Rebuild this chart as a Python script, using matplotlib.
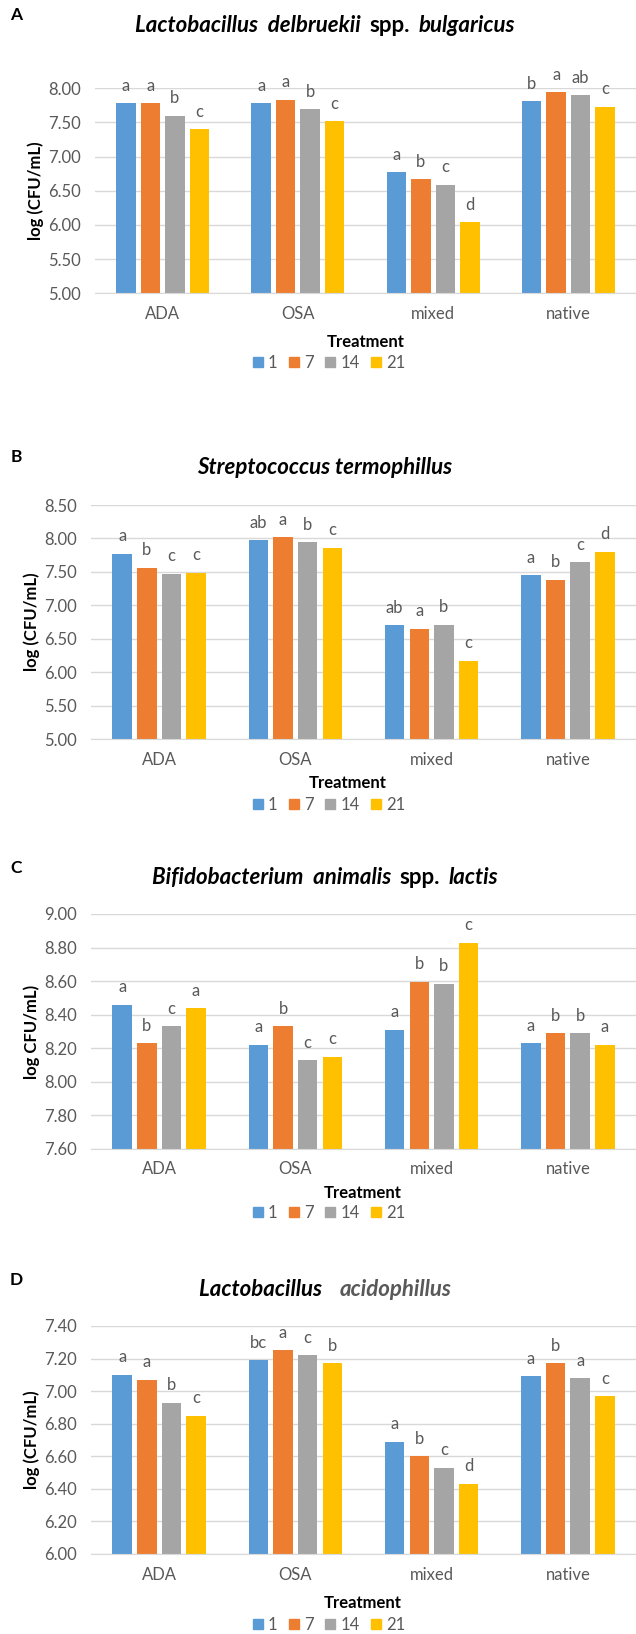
import numpy as np
import matplotlib
matplotlib.use("Agg")
from matplotlib import pyplot as plt
from matplotlib.offsetbox import TextArea, HPacker, AnchoredOffsetbox
from matplotlib.patches import Patch

plt.rcParams['font.family'] = ['Lato', 'DejaVu Sans']

# categories / series
treatments = ['ADA', 'OSA', 'mixed', 'native']
days = ['1', '7', '14', '21']
colors = ['#5B9BD5', '#ED7D31', '#A5A5A5', '#FFC000']

# A - L. delbruekii spp. bulgaricus
a_day1 = [7.78, 7.78, 6.77, 7.81]
a_day7 = [7.78, 7.83, 6.67, 7.94]
a_day14 = [7.60, 7.69, 6.585, 7.90]
a_day21 = [7.40, 7.52, 6.04, 7.73]
a_letters = [['a', 'a', 'a', 'b'], ['a', 'a', 'b', 'a'],
             ['b', 'b', 'c', 'ab'], ['c', 'c', 'd', 'c']]

# B - S. termophillus
b_day1 = [7.77, 7.97, 6.70, 7.45]
b_day7 = [7.56, 8.02, 6.65, 7.38]
b_day14 = [7.47, 7.94, 6.71, 7.64]
b_day21 = [7.49, 7.86, 6.17, 7.80]
b_letters = [['a', 'ab', 'ab', 'a'], ['b', 'a', 'a', 'b'],
             ['c', 'b', 'b', 'c'], ['c', 'c', 'c', 'd']]

# C - B. animalis spp. lactis
c_day1 = [8.46, 8.22, 8.31, 8.23]
c_day7 = [8.23, 8.33, 8.595, 8.29]
c_day14 = [8.33, 8.13, 8.585, 8.29]
c_day21 = [8.44, 8.15, 8.83, 8.22]
c_letters = [['a', 'a', 'a', 'a'], ['b', 'b', 'b', 'b'],
             ['c', 'c', 'b', 'b'], ['a', 'c', 'c', 'a']]

# D - L. acidophillus
d_day1 = [7.10, 7.19, 6.69, 7.09]
d_day7 = [7.07, 7.25, 6.60, 7.17]
d_day14 = [6.93, 7.22, 6.53, 7.08]
d_day21 = [6.85, 7.17, 6.43, 6.97]
d_letters = [['a', 'bc', 'a', 'a'], ['a', 'a', 'b', 'b'],
             ['b', 'c', 'c', 'a'], ['c', 'b', 'd', 'c']]

W, H = 636, 1634
GRAY = '#595959'

fig = plt.figure(figsize=(W / 100, H / 100), dpi=100)


def fx(x):
    return x / W


def fy(y):
    return 1 - y / H


panels = [
    dict(tag='A',
         title=[('Lactobacillus  delbruekii', 'italic', 'black'), ('spp.', 'normal', 'black'),
                ('bulgaricus', 'italic', 'black')],
         data=[a_day1, a_day7, a_day14, a_day21], letters=a_letters,
         ylim=(5.0, 8.0), yticks=np.arange(5.0, 8.01, 0.5), ylabel='log (CFU/mL)',
         left=95, top=88.3, bottom=293.3, tag_y=15, title_y=26,
         treat_x=366, treat_y=342, leg_y=363, ylab_x=36),
    dict(tag='B',
         title=[('Streptococcus termophillus', 'italic', 'black')],
         data=[b_day1, b_day7, b_day14, b_day21], letters=b_letters,
         ylim=(5.0, 8.5), yticks=np.arange(5.0, 8.51, 0.5), ylabel='log (CFU/mL)',
         left=91, top=505, bottom=739, tag_y=457, title_y=467,
         treat_x=348, treat_y=783, leg_y=805, ylab_x=32),
    dict(tag='C',
         title=[('Bifidobacterium  animalis', 'italic', 'black'), ('spp.', 'normal', 'black'),
                ('lactis', 'italic', 'black')],
         data=[c_day1, c_day7, c_day14, c_day21], letters=c_letters,
         ylim=(7.6, 9.0), yticks=np.arange(7.6, 9.01, 0.2), ylabel='log CFU/mL)',
         left=91, top=914, bottom=1149, tag_y=868, title_y=877,
         treat_x=363, treat_y=1193, leg_y=1213, ylab_x=32),
    dict(tag='D',
         title=[('Lactobacillus  ', 'italic', 'black'), ('acidophillus', 'italic', GRAY)],
         data=[d_day1, d_day7, d_day14, d_day21], letters=d_letters,
         ylim=(6.0, 7.4), yticks=np.arange(6.0, 7.41, 0.2), ylabel='log (CFU/mL)',
         left=91, top=1326, bottom=1554, tag_y=1280, title_y=1289,
         treat_x=363, treat_y=1603, leg_y=1625, ylab_x=32),
]

x = np.arange(len(treatments))
bw = 0.143
step = 0.181

for p in panels:
    ax = fig.add_axes([fx(p['left']), fy(p['bottom']), fx(W - p['left']), (p['bottom'] - p['top']) / H])
    for i, vals in enumerate(p['data']):
        xs = x + (i - 1.5) * step
        ax.bar(xs, vals, bw, color=colors[i], zorder=2)
        for xi, v, lab in zip(xs, vals, p['letters'][i]):
            ax.annotate(lab, (xi, v), xytext=(0, 9), textcoords='offset points',
                        ha='center', va='baseline', fontsize=12, color=GRAY)
    ax.set_xlim(-0.5, 3.5)
    ax.set_ylim(*p['ylim'])
    ax.set_yticks(p['yticks'])
    ax.set_yticklabels(['%.2f' % t for t in p['yticks']])
    ax.set_xticks(x)
    ax.set_xticklabels(treatments)
    ax.grid(axis='y', color='#D9D9D9', linewidth=1, zorder=0)
    ax.set_axisbelow(True)
    for s in ['top', 'right', 'left']:
        ax.spines[s].set_visible(False)
    ax.spines['bottom'].set_color('#D9D9D9')
    ax.tick_params(axis='both', length=0, labelsize=12, labelcolor=GRAY)
    ax.tick_params(axis='y', pad=10)
    ax.tick_params(axis='x', pad=9)

    fig.text(fx(16), fy(p['tag_y']), p['tag'], fontsize=12.5, fontweight='bold',
             ha='center', va='center')
    parts = [TextArea(t, textprops=dict(fontsize=16, fontweight='bold', fontstyle=st, color=c))
             for t, st, c in p['title']]
    box = HPacker(children=parts, pad=0, sep=6, align='baseline')
    anc = AnchoredOffsetbox(loc='center', child=box, frameon=False, pad=0, borderpad=0,
                            bbox_to_anchor=(fx(325), fy(p['title_y'])),
                            bbox_transform=fig.transFigure)
    fig.add_artist(anc)

    fig.text(fx(p['ylab_x']), fy((p['top'] + p['bottom']) / 2), p['ylabel'], rotation=90,
             fontsize=12, fontweight='bold', ha='center', va='center')
    fig.text(fx(p['treat_x']), fy(p['treat_y']), 'Treatment', fontsize=12,
             fontweight='bold', ha='center', va='center')
    handles = [Patch(color=c) for c in colors]
    fig.legend(handles, days, loc='center', bbox_to_anchor=(fx(329), fy(p['leg_y'])),
               ncol=4, frameon=False, fontsize=12, labelcolor=GRAY,
               handlelength=0.6, handleheight=0.6, handletextpad=0.3, columnspacing=0.7,
               borderpad=0, borderaxespad=0)

plt.savefig('out.png', dpi=100)
